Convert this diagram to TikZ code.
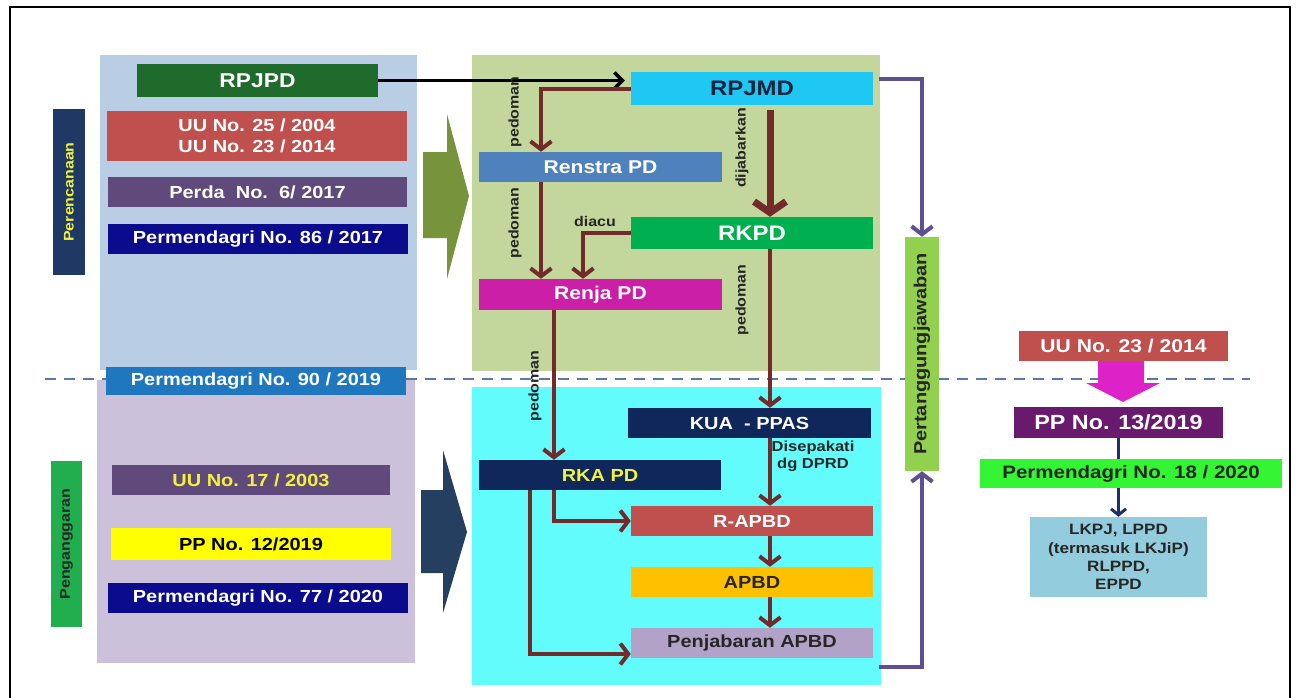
\documentclass[tikz,border=0pt]{standalone}
\usepackage{fontspec}
\setmainfont{Liberation Sans}[FakeStretch=1.14]
\usepackage{graphicx}
\usepackage{tikz}
\usetikzlibrary{calc,arrows.meta,positioning}
\definecolor{planblue}{HTML}{B9CDE5}
\definecolor{budgetlilac}{HTML}{CCC1DA}
\definecolor{planolive}{HTML}{C3D69B}
\definecolor{budgetcyan}{HTML}{62FCFC}
\definecolor{navytag}{HTML}{1F3864}
\definecolor{tagyellow}{HTML}{F2F23A}
\definecolor{greentag}{HTML}{21AE4E}
\definecolor{rpjpdgreen}{HTML}{1E6B2C}
\definecolor{lawred}{HTML}{C0504D}
\definecolor{perdapurple}{HTML}{604A7B}
\definecolor{decreeblue}{HTML}{0B0B8E}
\definecolor{decreesky}{HTML}{1F77C0}
\definecolor{ppyellow}{HTML}{FFFF00}
\definecolor{rpjmdcyan}{HTML}{1EC8F2}
\definecolor{rpjmdtext}{HTML}{14233F}
\definecolor{renstrablue}{HTML}{4F81BD}
\definecolor{rkpdgreen}{HTML}{00B050}
\definecolor{renjamagenta}{HTML}{CC1FA8}
\definecolor{kuanavy}{HTML}{10275B}
\definecolor{apbdorange}{HTML}{FFC000}
\definecolor{penjlilac}{HTML}{B3A2C7}
\definecolor{ptjgreen}{HTML}{92D050}
\definecolor{ppplum}{HTML}{6A1A6C}
\definecolor{limegreen}{HTML}{33F533}
\definecolor{reportblue}{HTML}{93CDDD}
\definecolor{flowbrown}{HTML}{732A2A}
\definecolor{reportpurple}{HTML}{5E5090}
\definecolor{arrowolive}{HTML}{77933C}
\definecolor{arrowdark}{HTML}{243F60}
\definecolor{pinkarrow}{HTML}{DD22C8}
\definecolor{dashblue}{HTML}{5878AA}
\definecolor{linknavy}{HTML}{1F2F6A}
\tikzset{
    block/.style = {rectangle, inner sep=0pt,
        minimum height=30pt,
        minimum width=242pt, align=center, text=white,
        font=\bfseries\fontsize{17.5}{21}\selectfont},
    panel/.style = {rectangle, inner sep=0pt},
    sidetag/.style = {rectangle, inner sep=0pt,
        minimum width=32pt, minimum height=166pt,
        font=\bfseries\fontsize{14}{16}\selectfont},
    note/.style = {inner sep=0pt, text=black!85, align=center,
        font=\bfseries\fontsize{14}{16}\selectfont},
    arrow/.style = {draw=flowbrown, line width=4pt, -{Straight Barb[length=8pt,width=21pt]}},
    bigarrow/.style = {line width=7pt, -{Straight Barb[length=11pt,width=32pt]}},
    report/.style = {draw=reportpurple, line width=4pt, -{Straight Barb[length=8pt,width=21pt]}},
    dashline/.style = {draw=dashblue, line width=2pt, dash pattern=on 11pt off 8pt}
}

\begin{document}
\begin{tikzpicture}[x=1pt, y=-1pt]
    \useasboundingbox (0,0) rectangle (1296,697);
    \draw [line width=2pt] (10,700) -- (10,7) -- (1290,7) -- (1290,700);
    \draw [dashline] (45,379) -- (1250,379);

    \node [panel, fill=planblue, minimum width=317pt, minimum height=315pt] (planpanel) at (258.5,212.5) {};
    \node [panel, fill=budgetlilac, minimum width=318pt, minimum height=283pt] (budgetpanel) at (256,521.5) {};
    \node [panel, fill=planolive, minimum width=408pt, minimum height=316pt] (rpanel) at (676,213) {};
    \node [panel, fill=budgetcyan, minimum width=409pt, minimum height=298pt] (apanel) at (676.5,536) {};

    \node [sidetag, fill=navytag, text=tagyellow] (perencanaan) at (69,192) {\rotatebox{90}{Perencanaan}};
    \node [sidetag, fill=greentag, text=black!85, minimum width=31pt] (penganggaran) at (66.5,544) {\rotatebox{90}{Penganggaran}};

    \node [block, fill=rpjpdgreen, minimum width=241pt, minimum height=33pt, font=\bfseries\fontsize{20}{22}\selectfont] (rpjpd) at (257.5,80.5) {RPJPD};
    \node [block, fill=lawred, minimum width=300pt, minimum height=50pt] (uu) at (257,136) {UU No. 25 / 2004\\UU No. 23 / 2014};
    \node [block, fill=perdapurple, minimum width=299pt] (perda) at (257.5,192) {Perda~~No.~~6/ 2017};
    \node [block, fill=decreeblue, minimum width=300pt] (pmdn86) at (258,239) {Permendagri No. 86 / 2017};
    \node [block, fill=decreesky, minimum width=300pt, minimum height=28pt] (pmdn90) at (256,381) {Permendagri No. 90 / 2019};
    \node [block, fill=perdapurple, minimum width=278pt, text=tagyellow] (uu17) at (251,480) {UU No. 17 / 2003};
    \node [block, fill=ppyellow, minimum width=280pt, minimum height=32pt, text=black] (pp12) at (251,544) {PP No. 12/2019};
    \node [block, fill=decreeblue, minimum width=300pt] (pmdn77) at (258,598) {Permendagri No. 77 / 2020};

    \node [block, fill=rpjmdcyan, minimum height=33pt, text=rpjmdtext, font=\bfseries\fontsize{21}{24}\selectfont] (rpjmd) at (752,88.5) {RPJMD};
    \node [block, fill=renstrablue, minimum width=243pt, font=\bfseries\fontsize{18.5}{21}\selectfont] (renstra) at (600.5,167) {Renstra PD};
    \node [block, fill=rkpdgreen, minimum height=32pt, font=\bfseries\fontsize{21}{23}\selectfont] (rkpd) at (752,233) {RKPD};
    \node [block, fill=renjamagenta, minimum width=243pt, minimum height=31pt, font=\bfseries\fontsize{18.5}{21}\selectfont] (renja) at (600.5,294.5) {Renja PD};
    \node [block, fill=kuanavy, minimum width=243pt] (kua) at (749.5,423) {KUA~~- PPAS};
    \node [block, fill=kuanavy, text=tagyellow] (rka) at (600,475) {RKA PD};
    \node [block, fill=lawred] (rapbd) at (752,521) {R-APBD};
    \node [block, fill=apbdorange, text=black!85] (apbd) at (752,582) {APBD};
    \node [block, fill=penjlilac, text=black!85] (penjabaran) at (752,643) {Penjabaran APBD};

    \node [block, fill=ptjgreen, text=black!85, minimum width=34pt, minimum height=234pt] (ptj) at (922,354) {\rotatebox{90}{Pertanggungjawaban}};

    \node [block, fill=lawred, minimum width=209pt, font=\bfseries\fontsize{18.5}{21}\selectfont] (uu23) at (1123.5,346) {UU No. 23 / 2014};
    \node [block, fill=ppplum, minimum width=209pt, minimum height=31pt, font=\bfseries\fontsize{20.5}{23}\selectfont] (pp13) at (1118.5,422.5) {PP No. 13/2019};
    \node [block, fill=limegreen, minimum width=302pt, minimum height=29pt, text=black!85, font=\bfseries\fontsize{18}{21}\selectfont] (pmdn18) at (1131,473.5) {Permendagri No. 18 / 2020};
    \node [block, fill=reportblue, minimum width=177pt, minimum height=80pt, text=black!85, font=\bfseries\fontsize{15}{18.3}\selectfont] (lkpj) at (1118.5,557) {LKPJ, LPPD\\(termasuk LKJiP)\\RLPPD,\\EPPD};

    \coordinate (spine) at (770,0);
    \coordinate (strdrop) at (541,0);
    \coordinate (diacudrop) at (583,0);
    \coordinate (renjadrop) at (554,0);
    \coordinate (rkadrop) at (530,0);
    \coordinate (ptjin) at (879,79);
    \coordinate (ptjout) at (879,667);

    \draw [line width=3.5pt, -{Straight Barb[length=8pt,width=16pt]}, shorten >=6pt] (rpjpd.east) -- (rpjpd.east -| rpjmd.west);
    \draw [arrow] (rpjmd.west) -| (renstra.north -| strdrop);
    \draw [arrow] (renstra.south -| strdrop) -- (renja.north -| strdrop);
    \draw [arrow] (rkpd.west) -| (renja.north -| diacudrop);
    \draw [arrow, bigarrow] ($(rpjmd.south -| spine)+(0,5)$) -- (rkpd.north -| spine);
    \draw [arrow] (rkpd.south -| spine) -- (kua.north -| spine);
    \draw [arrow] (kua.south -| spine) -- (rapbd.north -| spine);
    \draw [arrow] (rapbd.south -| spine) -- (apbd.north -| spine);
    \draw [arrow] (apbd.south -| spine) -- (penjabaran.north -| spine);
    \draw [arrow] (renja.south -| renjadrop) -- (rka.north -| renjadrop);
    \draw [arrow] (rka.south -| renjadrop) |- (rapbd.west);
    \draw [arrow] (rka.south -| rkadrop) |- ($(penjabaran.west)+(0,11)$);

    \node [note, rotate=90] (ped1) at (515,112) {pedoman};
    \node [note, rotate=90] (ped2) at (515,223) {pedoman};
    \node [note] (diacu) at (595,221) {diacu};
    \node [note, rotate=90] (dijabarkan) at (742,148) {dijabarkan};
    \node [note, rotate=90] (ped3) at (742,300) {pedoman};
    \node [note, rotate=90] (ped4) at (535,386) {pedoman};
    \node [note, font=\bfseries\fontsize{14.5}{17}\selectfont] (sepakat) at (813,456) {Disepakati\\dg DPRD};

    \draw [report] (ptjin) -| (ptj.north);
    \draw [report] (ptjout) -| (ptj.south);

    \draw [draw=linknavy, line width=3pt] (pp13.south) -- (pmdn18.north -| pp13.south);
    \draw [draw=linknavy, line width=3pt, -{Straight Barb[length=6pt,width=15pt]}] (pmdn18.south -| pp13.south) -- (lkpj.north);

    \fill [arrowolive] (423,152) -- (447,152) -- (447,114) -- (469,196) -- (447,279) -- (447,238) -- (423,238) -- cycle;
    \fill [arrowdark] (421,490) -- (443,490) -- (443,450) -- (467,532) -- (443,613) -- (443,573) -- (421,573) -- cycle;
    \fill [pinkarrow] (1098,361) -- (1144,361) -- (1144,383) -- (1160,383) -- (1123,402) -- (1086,383) -- (1098,383) -- cycle;
\end{tikzpicture}
\end{document}
